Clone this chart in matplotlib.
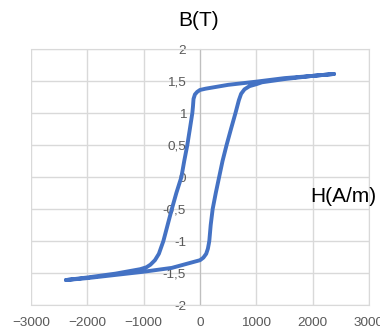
import matplotlib.pyplot as plt
from matplotlib.ticker import FuncFormatter

plt.rcParams['font.family'] = ['Liberation Sans', 'DejaVu Sans']

# ascending branch (lower), from negative saturation to positive saturation
H_rise = [-2380, -2000, -1500, -1000, -500, 0, 60, 110, 140, 155, 165, 190, 225,
          280, 340, 400, 472, 550, 630, 690, 730, 790, 880, 1000, 1100, 1500, 2000, 2380]
B_rise = [-1.61, -1.58, -1.53, -1.48, -1.42, -1.30, -1.26, -1.20, -1.12, -1.05, -1.0, -0.75, -0.5,
          -0.25, 0.0, 0.25, 0.5, 0.75, 1.0, 1.2, 1.3, 1.37, 1.42, 1.45, 1.48, 1.53, 1.58, 1.61]

# descending branch (upper), back from positive to negative saturation
H_fall = [2380, 2000, 1500, 1000, 500, 300, 100, 0, -50, -90, -115, -125, -136, -180, -225,
          -280, -330, -420, -500, -575, -650, -730, -800, -880, -950, -1060, -1500, -2000, -2380]
B_fall = [1.61, 1.58, 1.545, 1.49, 1.44, 1.41, 1.38, 1.36, 1.33, 1.29, 1.22, 1.1, 1.0, 0.75, 0.5,
          0.25, 0.0, -0.25, -0.5, -0.75, -1.0, -1.2, -1.3, -1.37, -1.41, -1.44, -1.51, -1.57, -1.61]

x_ticks = [-3000, -2000, -1000, 0, 1000, 2000, 3000]
y_ticks = [-2, -1.5, -1, -0.5, 0, 0.5, 1, 1.5, 2]

grid_col = '#d9d9d9'
text_col = '#595959'

fig = plt.figure(figsize=(3.8, 3.3), dpi=100)
ax = fig.add_axes([31 / 380, 1 - 305 / 330, 338 / 380, 256 / 330])

ax.plot(H_rise + H_fall, B_rise + B_fall, color='#4472c4', lw=2.8,
        solid_capstyle='round', solid_joinstyle='round', zorder=3)

ax.set_xlim(-3000, 3000)
ax.set_ylim(-2, 2)
ax.set_xticks(x_ticks)
ax.set_yticks(y_ticks)
ax.yaxis.set_major_formatter(FuncFormatter(
    lambda v, p: ('%g' % v).replace('.', ',')))
ax.grid(True, color=grid_col, lw=1.0)
ax.set_axisbelow(True)

for s in ['top', 'right', 'bottom']:
    ax.spines[s].set_color(grid_col)
ax.spines['left'].set_position(('data', 0))
ax.spines['left'].set_color('#bfbfbf')
ax.tick_params(length=0, labelsize=9.7, labelcolor=text_col)
ax.tick_params(axis='x', pad=9)
ax.tick_params(axis='y', pad=10)

fig.text(199 / 380, 1 - 20 / 330, 'B(T)', ha='center', va='center', fontsize=15)
fig.text(310 / 380, 1 - 196 / 330, 'H(A/m)', ha='left', va='center', fontsize=15)

fig.savefig('out.png', dpi=100)
